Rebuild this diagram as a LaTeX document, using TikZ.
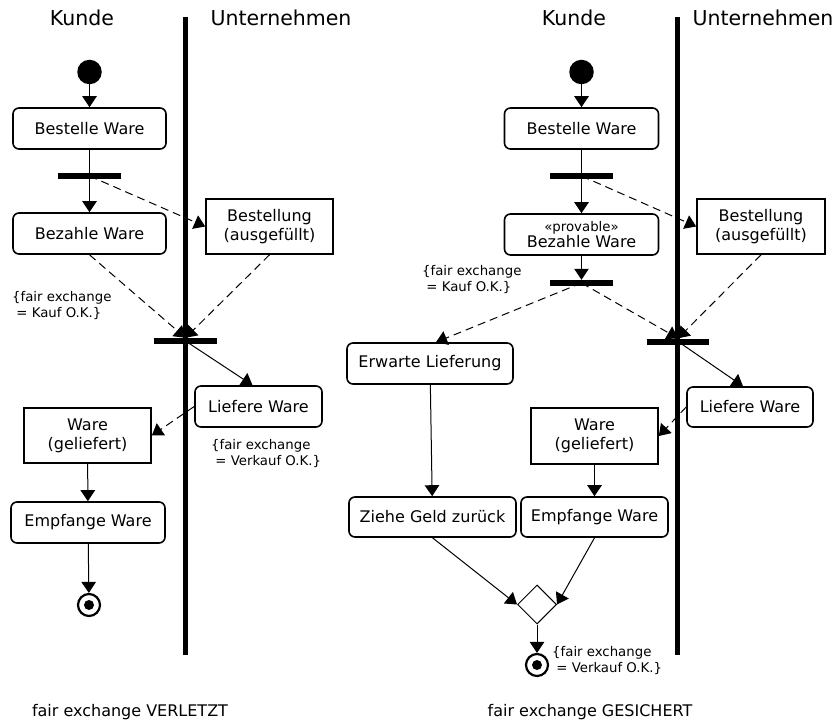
\documentclass[tikz,border=0pt]{standalone}
\usepackage{fontspec}
\setmainfont{DejaVu Sans}
\usetikzlibrary{arrows.meta,shapes.geometric}
\tikzset{
  act/.style={draw, line width=1.6pt, rounded corners=6pt, inner sep=0pt, align=center,
    font=\fontsize{16}{18.5}\selectfont},
  obj/.style={draw, line width=1.6pt, inner sep=0pt, align=center,
    font=\fontsize{16}{18.8}\selectfont},
  bar/.style={fill=black, inner sep=0pt, minimum width=63pt, minimum height=6pt},
  flow/.style={line width=1pt, -{Triangle[length=11pt,width=14.5pt]}},
  oflow/.style={flow, dash pattern=on 8pt off 5pt},
  plain/.style={line width=1pt},
  lane/.style={line width=5pt},
  hdr/.style={font=\fontsize{20.5}{24}\selectfont},
  note/.style={font=\fontsize{13.3}{15.7}\selectfont, align=left, inner sep=0pt, anchor=north west},
  capt/.style={font=\fontsize{16}{19}\selectfont},
  startst/.style={circle, fill=black, minimum size=24.5pt, inner sep=0pt},
  endst/.style={circle, draw, line width=2.2pt, minimum size=22pt, inner sep=0pt},
}
\begin{document}
\begin{tikzpicture}[x=1pt,y=-1pt]
\useasboundingbox (0,0) rectangle (840,722);

% ---------------- left diagram ----------------
\node[hdr] (kL) at (82,18) {Kunde};
\node[hdr] (uL) at (281,18) {Unternehmen};
\coordinate (laneLt) at (185.5,17);
\coordinate (laneLb) at (185.5,655);
\draw[lane] (laneLt) -- (laneLb);

\node[startst] (startL) at (89.5,72) {};
\node[act, minimum width=153pt, minimum height=41pt] (bestL) at (89.5,128.5) {Bestelle Ware};
\node[bar] (forkL) at (89.5,176) {};
\node[act, minimum width=153pt, minimum height=41pt] (bezL) at (89.5,233.5) {Bezahle Ware};
\node[obj, minimum width=127pt, minimum height=55pt] (bestellL) at (269.5,226.5) {Bestellung\\(ausgefüllt)};
\node[bar] (joinL) at (185.5,341) {};
\node[act, minimum width=127pt, minimum height=41pt] (liefL) at (258.5,406.5) {Liefere Ware};
\node[obj, minimum width=127pt, minimum height=55pt] (wareL) at (87.5,435.5) {Ware\\(geliefert)};
\node[act, minimum width=154pt, minimum height=41pt] (empfL) at (88,522.5) {Empfange Ware};
\node[endst] (endL) at (89,605) {};
\fill (endL.center) circle (5pt);

\node[note] (nKaufL) at (12,291) {\{fair exchange\\\ = Kauf O.K.\}};
\node[note] (nVerkL) at (211,439) {\{fair exchange\\\ = Verkauf O.K.\}};

\draw[flow] (startL) -- (bestL);
\draw[plain] (bestL) -- (forkL.center);
\draw[flow] (forkL.center) -- (bezL);
\draw[oflow] (forkL.center) -- (bestellL.west);
\draw[oflow] (bezL.south) -- (joinL.north);
\draw[oflow] (bestellL.south) -- (joinL.north);
\draw[flow] (joinL.center) -- ([xshift=-6pt]liefL.north);
\draw[oflow] (liefL.west) -- (wareL.east);
\draw[flow] (wareL) -- (empfL);
\draw[flow] (empfL) -- (endL);

\node[capt] (cL) at (130,712) {fair exchange VERLETZT};

% ---------------- right diagram ----------------
\node[hdr] (kR) at (574,18) {Kunde};
\node[hdr] (uR) at (763,18) {Unternehmen};
\coordinate (laneRt) at (677,17);
\coordinate (laneRb) at (677,655);
\draw[lane] (laneRt) -- (laneRb);

\node[startst] (startR) at (581.5,72) {};
\node[act, minimum width=154pt, minimum height=41pt] (bestR) at (581.5,128.5) {Bestelle Ware};
\node[bar] (forkR) at (581.5,176) {};
\node[act, minimum width=154pt, minimum height=41pt] (bezR) at (581.5,234.5) {{\fontsize{13.3}{15}\selectfont «provable»}\\[-2.5pt]Bezahle Ware};
\node[obj, minimum width=128pt, minimum height=55pt] (bestellR) at (761,226.5) {Bestellung\\(ausgefüllt)};
\node[bar] (fork2R) at (581.5,283) {};
\node[bar, minimum width=62pt] (joinR) at (678,341.5) {};
\node[act, minimum width=166pt, minimum height=41pt] (erwR) at (430,363.5) {Erwarte Lieferung};
\node[act, minimum width=126pt, minimum height=40pt] (liefR) at (750,407) {Liefere Ware};
\node[obj, minimum width=127pt, minimum height=56pt] (wareR) at (594.5,436) {Ware\\(geliefert)};
\node[act, minimum width=167pt, minimum height=40pt] (ziehR) at (432.5,517) {Ziehe Geld zurück};
\node[act, minimum width=147pt, minimum height=40pt] (empfR) at (594.5,517) {Empfange Ware};
\node[diamond, draw, line width=1pt, minimum width=39pt, minimum height=39pt, inner sep=0pt] (diamR) at (537,604.5) {};
\node[endst] (endR) at (537,665) {};
\fill (endR.center) circle (5pt);

\node[note] (nKaufR) at (422,265) {\{fair exchange\\\ = Kauf O.K.\}};
\node[note] (nVerkR) at (552,646) {\{fair exchange\\\ = Verkauf O.K.\}};

\draw[flow] (startR) -- (bestR);
\draw[plain] (bestR) -- (forkR.center);
\draw[flow] (forkR.center) -- (bezR);
\draw[oflow] (forkR.center) -- (bestellR.west);
\draw[flow] (bezR) -- (fork2R.north);
\draw[oflow] (fork2R.center) -- ([xshift=6pt]erwR.north);
\draw[oflow] (fork2R.center) -- (joinR.north);
\draw[oflow] (bestellR.south) -- (joinR.north);
\draw[flow] (joinR.center) -- ([xshift=-7pt]liefR.north);
\draw[oflow] (liefR.west) -- (wareR.east);
\draw[flow] (erwR) -- (ziehR);
\draw[flow] (wareR) -- (empfR);
\draw[flow] (ziehR.south) -- (diamR.west);
\draw[flow] (empfR.south) -- (diamR.east);
\draw[flow] (diamR) -- (endR);

\node[capt] (cR) at (590,712) {fair exchange GESICHERT};
\end{tikzpicture}
\end{document}
